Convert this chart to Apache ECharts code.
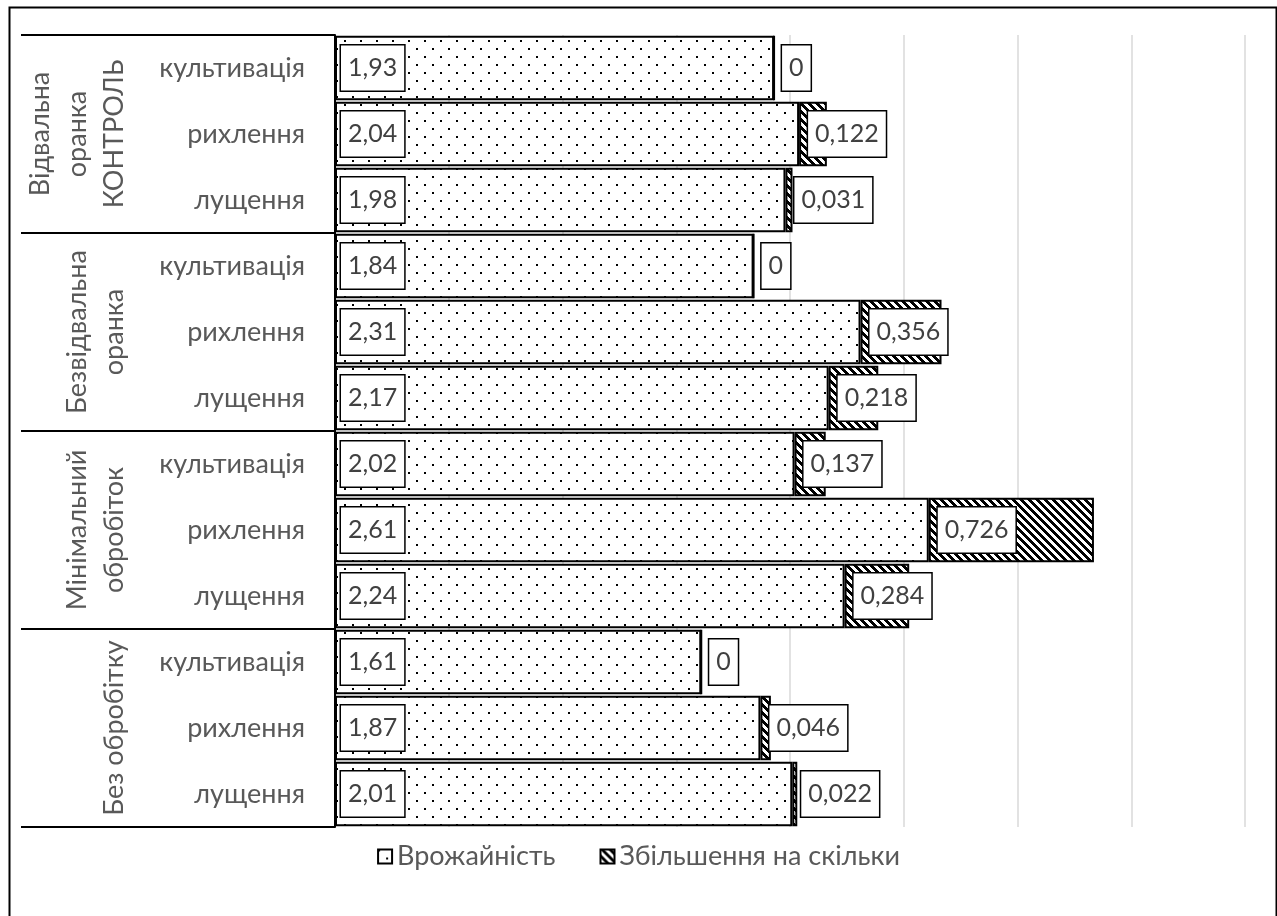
<!DOCTYPE html>
<html>
<head>
<meta charset="utf-8">
<script src="https://cdn.jsdelivr.net/npm/echarts@6/dist/echarts.min.js"></script>
<style>
html,body{margin:0;padding:0;background:#fff;}
#chart{width:1277px;height:916px;}
</style>
</head>
<body>
<div id="chart"></div>
<script>
// ---- data ----
const groups = ['Відвальна\nоранка\nКОНТРОЛЬ', 'Безвідвальна\nоранка', 'Мінімальний\nобробіток', 'Без обробітку'];
const subcats = ['культивація', 'рихлення', 'лущення',
                 'культивація', 'рихлення', 'лущення',
                 'культивація', 'рихлення', 'лущення',
                 'культивація', 'рихлення', 'лущення'];
const yieldValues = [1.93, 2.04, 1.98, 1.84, 2.31, 2.17, 2.02, 2.61, 2.24, 1.61, 1.87, 2.01];
const increaseValues = [0, 0.122, 0.031, 0, 0.356, 0.218, 0.137, 0.726, 0.284, 0, 0.046, 0.022];
const seriesNames = ['Врожайність', 'Збільшення на скільки'];

// ---- patterns ----
function dotPattern() {
  const c = document.createElement('canvas');
  c.width = 16; c.height = 16;
  const g = c.getContext('2d');
  g.fillStyle = '#fff'; g.fillRect(0, 0, 16, 16);
  g.fillStyle = '#000';
  g.fillRect(0, 0, 2, 2);
  g.fillRect(8, 8, 2, 2);
  return c;
}
function hatchPattern() {
  const c = document.createElement('canvas');
  c.width = 8; c.height = 8;
  const g = c.getContext('2d');
  g.fillStyle = '#fff'; g.fillRect(0, 0, 8, 8);
  g.fillStyle = '#000';
  for (let y = 0; y < 8; y++) {
    for (let x = 0; x < 8; x++) {
      if ((((x - y) % 8) + 8) % 8 < 4) g.fillRect(x, y, 1, 1);
    }
  }
  return c;
}

const FONT = 'Lato';
const fmt = p => String(p.value).replace('.', ',');
const boxLabel = (dist) => ({
  show: true,
  position: 'insideLeft',
  distance: dist,
  formatter: fmt,
  color: '#404040',
  fontFamily: FONT,
  fontSize: 25,
  backgroundColor: '#fff',
  borderColor: '#000',
  borderWidth: 1.5,
  padding: [10, 7]
});

const chart = echarts.init(document.getElementById('chart'), null, {renderer: 'canvas'});
chart.setOption({
  animation: false,
  grid: {left: 335, right: 32, top: 35, bottom: 89, containLabel: false},
  xAxis: {
    type: 'value', min: 0, max: 4, interval: 0.5,
    axisLabel: {show: false}, axisLine: {show: false}, axisTick: {show: false},
    splitLine: {show: true, lineStyle: {color: '#d9d9d9', width: 1.5}}
  },
  yAxis: [
    {
      type: 'category', data: subcats, inverse: true, position: 'left',
      axisLine: {show: true, lineStyle: {color: '#000', width: 2}},
      axisTick: {show: false},
      axisLabel: {interval: 0, margin: 30, color: '#595959', fontFamily: FONT, fontSize: 27}
    },
    {
      type: 'category', data: groups, inverse: true, position: 'left',
      axisLine: {show: false},
      axisTick: {show: true, length: 314, interval: 0, lineStyle: {color: '#000', width: 2}},
      axisLabel: {interval: 0, rotate: 90, margin: 202, color: '#595959', fontFamily: FONT,
                  fontSize: 27, lineHeight: 37}
    }
  ],
  legend: {
    bottom: 41, left: 'center',
    icon: 'rect',
    itemWidth: 14, itemHeight: 14, itemGap: 44,
    textStyle: {color: '#595959', fontFamily: FONT, fontSize: 27},
    data: seriesNames
  },
  graphic: [{
    type: 'rect', left: 7, top: 5, silent: true,
    shape: {width: 1267, height: 960},
    style: {fill: 'none', stroke: '#000', lineWidth: 2}
  }],
  series: [
    {
      name: seriesNames[0], type: 'bar', stack: 's', yAxisIndex: 0,
      data: yieldValues, barCategoryGap: '2%',
      itemStyle: {color: {image: dotPattern(), repeat: 'repeat'}, borderColor: '#000', borderWidth: 2},
      label: boxLabel(6)
    },
    {
      name: seriesNames[1], type: 'bar', stack: 's', yAxisIndex: 0,
      data: increaseValues, barCategoryGap: '2%',
      itemStyle: {color: {image: hatchPattern(), repeat: 'repeat'}, borderColor: '#000', borderWidth: 2},
      label: boxLabel(9)
    }
  ]
});
</script>
</body>
</html>
